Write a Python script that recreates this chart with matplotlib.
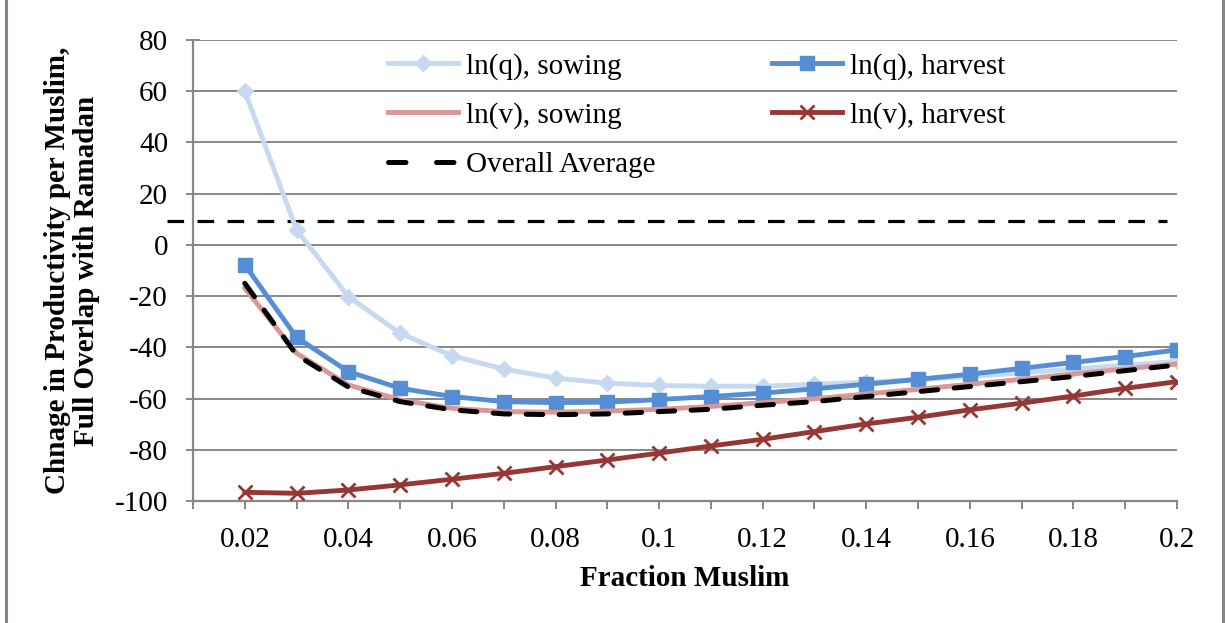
import matplotlib
matplotlib.use("Agg")
import matplotlib.pyplot as plt
import matplotlib.transforms as mtransforms
from matplotlib.lines import Line2D
import numpy as np

# data
fraction_muslim = [0.02, 0.03, 0.04, 0.05, 0.06, 0.07, 0.08, 0.09, 0.10, 0.11,
                   0.12, 0.13, 0.14, 0.15, 0.16, 0.17, 0.18, 0.19, 0.20]
lnq_sowing = [60.0, 5.9, -20.2, -34.5, -43.3, -48.5, -52.0, -54.0, -54.9, -55.2,
              -55.2, -54.4, -53.6, -52.6, -51.4, -50.0, -48.5, -47.0, -45.5]
lnq_harvest = [-7.8, -36.1, -49.5, -56.0, -59.2, -61.2, -61.6, -61.4, -60.4, -59.2,
               -57.9, -56.2, -54.4, -52.5, -50.5, -48.2, -45.9, -43.6, -41.0]
lnv_sowing = [-16.9, -42.3, -54.7, -60.5, -63.8, -65.1, -65.3, -64.9, -64.2, -63.1,
              -61.6, -60.1, -58.2, -56.4, -54.4, -52.5, -50.4, -48.4, -46.5]
lnv_harvest = [-96.6, -97.0, -95.7, -93.7, -91.5, -89.2, -86.6, -84.0, -81.3, -78.5,
               -75.9, -72.9, -69.9, -67.3, -64.4, -61.8, -59.0, -56.0, -53.4]
overall_avg = [-15.0, -43.0, -55.5, -61.2, -64.4, -66.0, -66.3, -66.0, -65.1, -64.2,
               -62.6, -61.2, -59.2, -57.3, -55.3, -53.4, -51.4, -49.1, -46.9]
ref_level = 9.2

x_major = [0.02, 0.04, 0.06, 0.08, 0.10, 0.12, 0.14, 0.16, 0.18, 0.20]
x_major_labels = ['0.02', '0.04', '0.06', '0.08', '0.1', '0.12', '0.14', '0.16', '0.18', '0.2']
x_minor = [0.01, 0.03, 0.05, 0.07, 0.09, 0.11, 0.13, 0.15, 0.17, 0.19]
y_ticks = [-100, -80, -60, -40, -20, 0, 20, 40, 60, 80]

plt.rcParams['font.family'] = ['Liberation Serif', 'DejaVu Serif']
plt.rcParams['font.size'] = 21
plt.rcParams['axes.unicode_minus'] = False

GRID = '#878787'

fig = plt.figure(figsize=(12.25, 6.23), dpi=100)
ax = fig.add_axes([193 / 1225, 1 - 501 / 623, 984 / 1225, 461 / 623])

# series
ax.plot(fraction_muslim, lnq_sowing, color='#C6D9F0', lw=3.5, marker='D', ms=8,
        label='ln(q), sowing', zorder=3)
ax.plot(fraction_muslim, lnq_harvest, color='#558ED5', lw=3.5, marker='s', ms=10.5,
        label='ln(q), harvest', zorder=4)
ax.plot(fraction_muslim, lnv_sowing, color='#D99795', lw=3.5,
        label='ln(v), sowing', zorder=4)
ax.plot(fraction_muslim, lnv_harvest, color='#953735', lw=3.5, marker='x', ms=10, mew=2,
        label='ln(v), harvest', zorder=5)
ax.plot(fraction_muslim, overall_avg, color='black', lw=3.6, dashes=(3.3, 3.3),
        dash_capstyle='round', label='Overall Average', zorder=6)

# horizontal reference dashed line (extends a bit left of the axis)
trans = mtransforms.blended_transform_factory(ax.transAxes, ax.transData)
ax.plot([-0.026, 0.99], [ref_level, ref_level], transform=trans, color='black',
        lw=2.3, dashes=(5.2, 4.2), clip_on=False, zorder=2)

ax.set_xlim(0.01, 0.2)
ax.set_ylim(-100, 80)
ax.set_xticks(x_major)
ax.set_xticklabels(x_major_labels)
ax.set_xticks(x_minor, minor=True)
ax.set_yticks(y_ticks)
ax.tick_params(axis='x', which='both', direction='out', length=6, width=1.4,
               color=GRID, pad=12.5)
ax.tick_params(axis='y', direction='inout', length=10, width=1.4, color=GRID, pad=13)

ax.yaxis.grid(True, color=GRID, lw=1.4)
ax.set_axisbelow(True)
for s in ['top', 'right']:
    ax.spines[s].set_visible(False)
for s in ['left', 'bottom']:
    ax.spines[s].set_color(GRID)
    ax.spines[s].set_linewidth(1.6)

ax.set_ylabel('Chnage in Productivity per Muslim,\nFull Overlap with Ramadan',
              fontweight='bold', linespacing=1.1)
ax.yaxis.set_label_coords(-0.0945, 0.5)
ax.set_xlabel('Fraction Muslim', fontweight='bold')
ax.xaxis.set_label_coords(0.5, -0.138)

h, l = ax.get_legend_handles_labels()
# legend key for the average: two long dashes like the original
h[4] = Line2D([], [], color='black', lw=3.6, dashes=(3.5, 6.1), dash_capstyle='round')
order = [0, 2, 4, 1, 3]
ax.legend([h[i] for i in order], [l[i] for i in order], ncol=2, frameon=False,
          loc='upper left', bbox_to_anchor=(0.186, 0.998), borderaxespad=0,
          handlelength=2.4, handletextpad=0.27, columnspacing=4.0,
          labelspacing=0.77, fontsize=21)

# outer chart border (left and right edges)
fig.add_artist(Line2D([6 / 1225, 6 / 1225], [0, 1], color=GRID, lw=2.2,
                      transform=fig.transFigure))
fig.add_artist(Line2D([1223 / 1225, 1223 / 1225], [0, 1], color=GRID, lw=2.2,
                      transform=fig.transFigure))

fig.savefig('out.png', dpi=100)
